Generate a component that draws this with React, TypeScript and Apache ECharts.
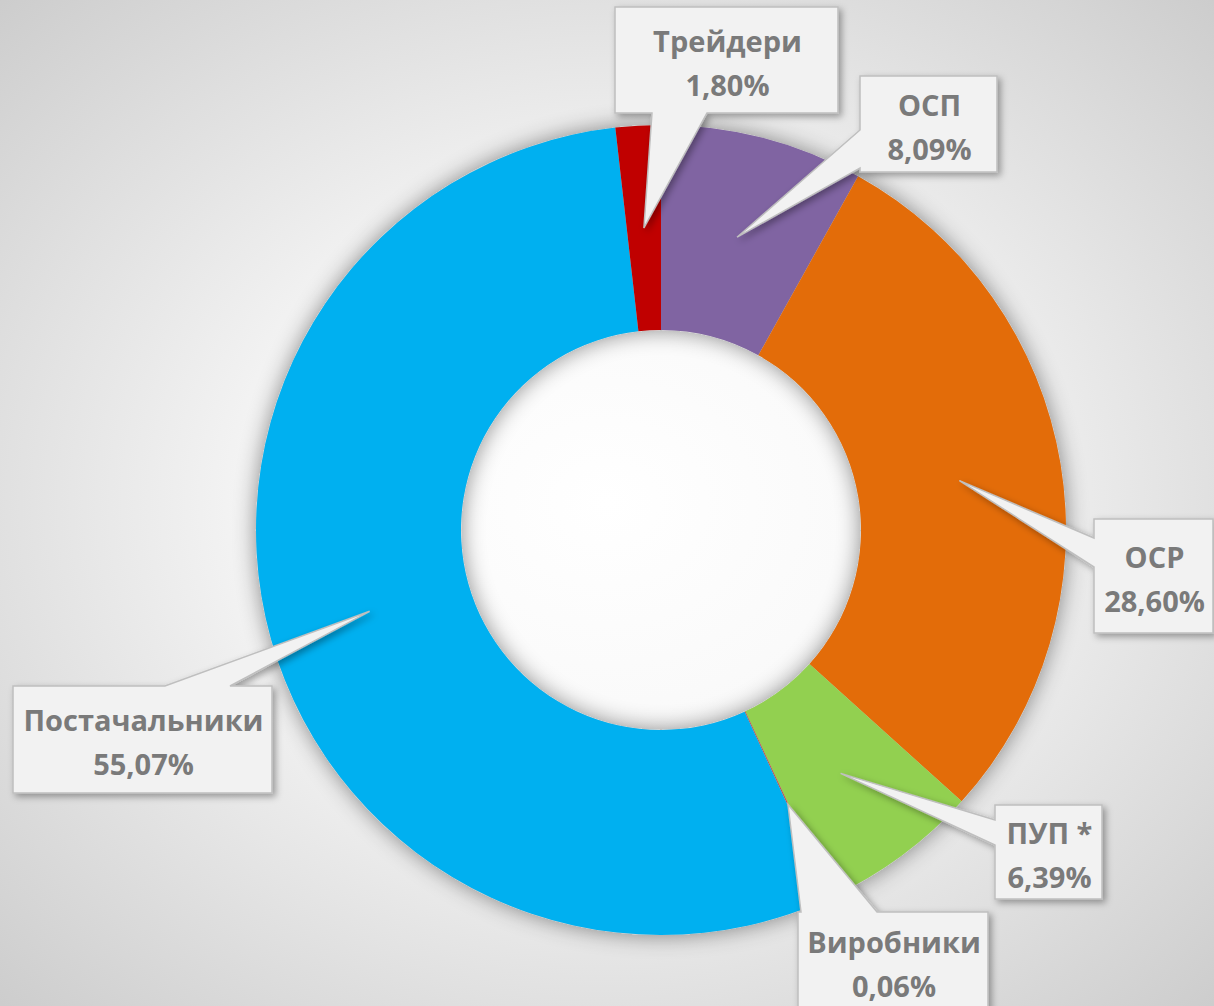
import React, { useEffect, useRef } from 'react';
import * as echarts from 'echarts';

const categories = ['ОСП', 'ОСР', 'ПУП *', 'Виробники', 'Постачальники', 'Трейдери'];
const shares = [8.09, 28.6, 6.39, 0.06, 55.07, 1.8];
const colors = ['#8064a2', '#e36c09', '#92d050', '#c0504d', '#00b0f0', '#c00000'];

// Callout box layout (pixels): box rectangle, side where the pointer leaves, pointer base along that side
const calloutLayout = [
  { x: 860, y: 76, w: 137, h: 96, side: 'left', b1: 130, b2: 168 },
  { x: 1094, y: 519, w: 119, h: 114, side: 'left', b1: 538, b2: 567 },
  { x: 995, y: 805, w: 107, h: 94, side: 'left', b1: 820, b2: 845 },
  { x: 798, y: 912, w: 190, h: 98, side: 'top', b1: 801, b2: 877 },
  { x: 13, y: 686, w: 259, h: 107, side: 'top', b1: 165, b2: 230 },
  { x: 615, y: 7, w: 223, h: 106, side: 'bottom', b1: 652, b2: 707 },
];

const W = 1214;
const H = 1006;
const CX = 661;
const CY = 530;
const R_IN = 200;
const R_OUT = 405;

function fmt(v: number) {
  return v.toFixed(2).replace('.', ',') + '%';
}

function calloutPoints(b: any, tip: number[]) {
  const { x, y, w, h, side, b1, b2 } = b;
  if (side === 'left') {
    return [[x, y], [x + w, y], [x + w, y + h], [x, y + h], [x, b2], tip, [x, b1]];
  }
  if (side === 'top') {
    return [[x, y], [b1, y], tip, [b2, y], [x + w, y], [x + w, y + h], [x, y + h]];
  }
  return [[x, y], [x + w, y], [x + w, y + h], [b2, y + h], tip, [b1, y + h], [x, y + h]];
}

export default function App() {
  const ref = useRef<HTMLDivElement>(null);

  useEffect(() => {
    if (!ref.current) return;
    const chart = echarts.init(ref.current, null, { renderer: 'svg', width: W, height: H });

    const total = shares.reduce((a, b) => a + b, 0);
    const rMid = (R_IN + R_OUT) / 2;
    let cum = 0;
    const graphics: any[] = [
      {
        type: 'rect',
        z: -10,
        shape: { x: 0, y: 0, width: W, height: H },
        style: {
          fill: new echarts.graphic.RadialGradient(0.5, 0.5, 0.8, [
            { offset: 0, color: '#ffffff' },
            { offset: 0.3, color: '#f9f9f9' },
            { offset: 1, color: '#c4c4c4' },
          ]),
        },
        silent: true,
      },
    ];

    shares.forEach((v, i) => {
      const mid = ((cum + v / 2) / total) * Math.PI * 2;
      cum += v;
      const tip = [CX + rMid * Math.sin(mid), CY - rMid * Math.cos(mid)];
      const b = calloutLayout[i];
      graphics.push({
        type: 'polygon',
        z: 20,
        shape: { points: calloutPoints(b, tip) },
        style: {
          fill: '#f2f2f2',
          stroke: '#bfbfbf',
          lineWidth: 1.5,
          shadowBlur: 7,
          shadowOffsetX: 3,
          shadowOffsetY: 3,
          shadowColor: 'rgba(0,0,0,0.35)',
        },
        silent: true,
      });
      graphics.push({
        type: 'text',
        z: 21,
        x: b.x + b.w / 2 + 1,
        y: b.y + b.h / 2 + 2,
        style: {
          text: categories[i] + '\n' + fmt(v),
          fill: '#7a7a7a',
          fontFamily: '"Open Sans", sans-serif',
          fontWeight: 'bold',
          fontSize: 29,
          lineHeight: 44,
          align: 'center',
          verticalAlign: 'middle',
        },
        silent: true,
      });
    });

    chart.setOption({
      animation: false,
      graphic: graphics,
      series: [
        {
          type: 'pie',
          z: 1,
          silent: true,
          center: [CX, CY],
          radius: [R_IN, R_OUT],
          label: { show: false },
          labelLine: { show: false },
          itemStyle: {
            color: '#d0d0d0',
            shadowBlur: 22,
            shadowColor: 'rgba(0,0,0,0.45)',
          },
          data: [{ value: 1 }],
        },
        {
          type: 'pie',
          z: 2,
          center: [CX, CY],
          radius: [R_IN, R_OUT],
          startAngle: 90,
          clockwise: true,
          avoidLabelOverlap: false,
          label: { show: false },
          labelLine: { show: false },
          itemStyle: { borderWidth: 0 },
          data: categories.map((c, i) => ({
            name: c,
            value: shares[i],
            itemStyle: { color: colors[i] },
          })),
        },
      ],
    });

    return () => chart.dispose();
  }, []);

  return (
    <div
      ref={ref}
      style={{ position: 'absolute', left: 0, top: 0, width: W, height: H, overflow: 'hidden' }}
    />
  );
}
